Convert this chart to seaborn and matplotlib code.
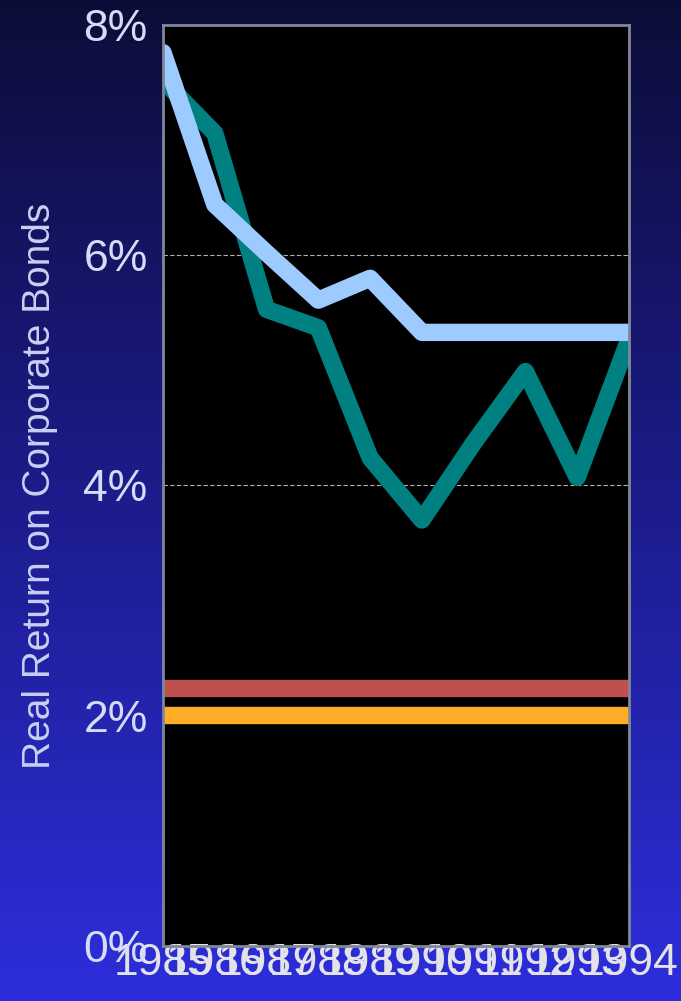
import numpy as np
import pandas as pd
import seaborn as sns
import matplotlib
matplotlib.use("Agg")
import matplotlib.pyplot as plt
from matplotlib.colors import LinearSegmentedColormap

years = [1985, 1986, 1987, 1988, 1989, 1990, 1991, 1992, 1993, 1994]
teal_vals = [7.52, 7.06, 5.53, 5.37, 4.24, 3.70, 4.37, 4.99, 4.07, 5.27]
blue_vals = [7.76, 6.44, 6.02, 5.61, 5.80, 5.33, 5.33, 5.33, 5.33, 5.33]
red_vals = [2.24] * 10
orange_vals = [2.01] * 10
y_ticks = [0, 2, 4, 6, 8]
y_labels = ["0%", "2%", "4%", "6%", "8%"]

sns.set_style("dark")
plt.rcParams['font.family'] = ['Liberation Sans', 'DejaVu Sans']

fig = plt.figure(figsize=(6.81, 10.01), dpi=100)

# background gradient over the whole figure
bg = fig.add_axes([0, 0, 1, 1], zorder=-10)
grad = LinearSegmentedColormap.from_list("bg", [(0.05, 0.05, 0.22), (0.11, 0.11, 0.55), (0.18, 0.18, 0.86)])
bg.imshow(np.linspace(0, 1, 256).reshape(-1, 1), aspect="auto", cmap=grad, extent=[0, 1, 0, 1])
bg.axis("off")

ax = fig.add_axes([163 / 681, 1 - 946 / 1001, 466 / 681, 921 / 1001])
ax.set_facecolor("black")

df = pd.DataFrame({"year": years, "teal": teal_vals, "blue": blue_vals,
                   "red": red_vals, "orange": orange_vals})

lw = 12.5
sns.lineplot(data=df, x="year", y="orange", color="#FFAD26", lw=lw, ax=ax)
sns.lineplot(data=df, x="year", y="red", color="#C0504D", lw=lw, ax=ax)
sns.lineplot(data=df, x="year", y="teal", color="#008080", lw=lw, ax=ax)
sns.lineplot(data=df, x="year", y="blue", color="#9ECBFF", lw=lw, ax=ax)

ax.set_xlim(1985, 1994)
ax.set_ylim(0, 8)
ax.set_yticks(y_ticks)
ax.set_yticklabels(y_labels, color="#D4DCF8", fontsize=32)
ax.set_xticks(years)
ax.set_xticklabels([str(y) for y in years], color="#E2E2E8", fontsize=32)
ax.tick_params(axis="y", length=0, pad=11)
ax.tick_params(axis="x", length=0, pad=-2)

ax.grid(False)
for v in [2, 4, 6]:
    ax.axhline(v, color="#B0B0B0", lw=0.8, ls=(0, (4, 2)), zorder=0.5)

for s in ax.spines.values():
    s.set_visible(True)
    s.set_color("#808898")
    s.set_linewidth(2)

ax.set_xlabel("")
ax.set_ylabel("Real Return on Corporate Bonds", color="#C8D0F4", fontsize=28, labelpad=18)

fig.savefig("out.png", dpi=100)
